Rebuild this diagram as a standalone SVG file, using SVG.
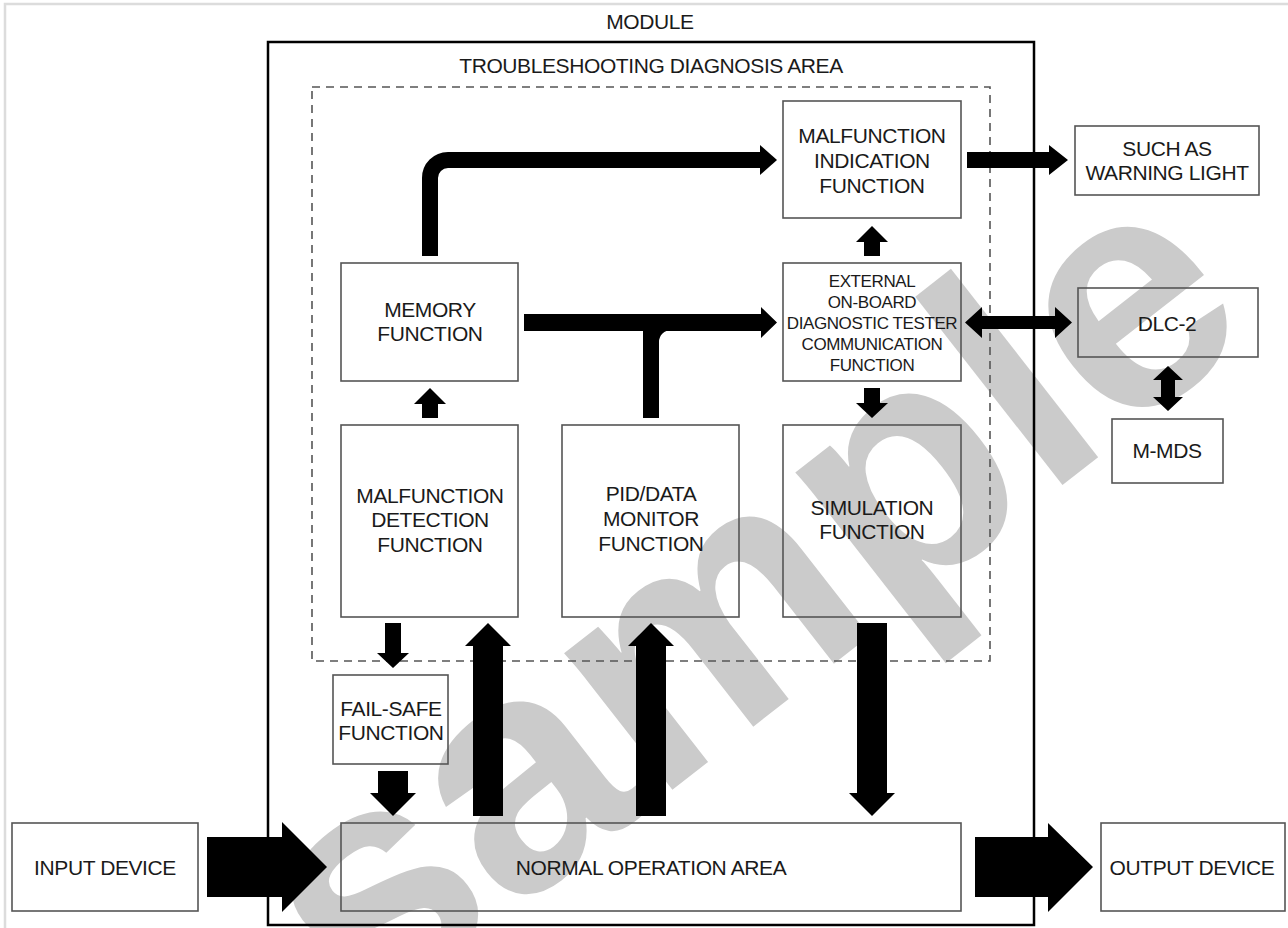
<svg xmlns="http://www.w3.org/2000/svg" width="1288" height="928" viewBox="0 0 1288 928">
<style>
.bx{fill:none;stroke:#555;stroke-width:1.6}
.t{font-family:"Liberation Sans",Arial,sans-serif;font-size:21px;letter-spacing:-0.4px;fill:#1a1a1a;text-anchor:middle}
.ts{font-family:"Liberation Sans",Arial,sans-serif;font-size:17px;letter-spacing:-0.4px;fill:#1a1a1a;text-anchor:middle}
.ar{fill:#000;stroke:none}
</style>
<rect x="0" y="0" width="1288" height="928" fill="#fff"/>
<rect x="5" y="4" width="1300" height="940" fill="none" stroke="#dcdcdc" stroke-width="2.5"/>
<text x="0" y="0" transform="translate(365,1030) rotate(-38)" font-family="Liberation Sans,Arial,sans-serif" font-weight="bold" font-size="330" fill="#cbcbcb">sample</text>
<g id="module">
<rect x="268" y="42" width="766" height="883" fill="none" stroke="#000" stroke-width="2.5"/>
<text class="t" x="650" y="29">MODULE</text>
</g>
<g id="troubleshooting-area">
<rect x="312" y="87" width="678" height="574" fill="none" stroke="#555" stroke-width="1.6" stroke-dasharray="8,6"/>
<text class="t" x="651" y="73">TROUBLESHOOTING DIAGNOSIS AREA</text>
</g>
<g id="malfunction-indication">
<rect class="bx" x="783" y="101" width="178" height="117"/>
<text class="t" x="872" y="143">MALFUNCTION</text>
<text class="t" x="872" y="168">INDICATION</text>
<text class="t" x="872" y="193">FUNCTION</text>
</g>
<g id="warning-light">
<rect class="bx" x="1075" y="126" width="184" height="69"/>
<text class="t" x="1167" y="156">SUCH AS</text>
<text class="t" x="1167" y="180">WARNING LIGHT</text>
</g>
<g id="memory">
<rect class="bx" x="341" y="263" width="177" height="118"/>
<text class="t" x="430" y="317">MEMORY</text>
<text class="t" x="430" y="341">FUNCTION</text>
</g>
<g id="external-tester">
<rect class="bx" x="783" y="263" width="178" height="118"/>
<text class="ts" x="872" y="287">EXTERNAL</text>
<text class="ts" x="872" y="308">ON-BOARD</text>
<text class="ts" x="872" y="329">DIAGNOSTIC TESTER</text>
<text class="ts" x="872" y="350">COMMUNICATION</text>
<text class="ts" x="872" y="371">FUNCTION</text>
</g>
<g id="dlc2">
<rect class="bx" x="1078" y="288" width="180" height="69"/>
<text class="t" x="1167" y="331">DLC-2</text>
</g>
<g id="mmds">
<rect class="bx" x="1112" y="419" width="111" height="64"/>
<text class="t" x="1167" y="458">M-MDS</text>
</g>
<g id="malfunction-detection">
<rect class="bx" x="341" y="425" width="177" height="192"/>
<text class="t" x="430" y="503">MALFUNCTION</text>
<text class="t" x="430" y="527">DETECTION</text>
<text class="t" x="430" y="552">FUNCTION</text>
</g>
<g id="pid-data">
<rect class="bx" x="562" y="425" width="177" height="192"/>
<text class="t" x="651" y="501">PID/DATA</text>
<text class="t" x="651" y="526">MONITOR</text>
<text class="t" x="651" y="551">FUNCTION</text>
</g>
<g id="simulation">
<rect class="bx" x="783" y="425" width="178" height="192"/>
<text class="t" x="872" y="515">SIMULATION</text>
<text class="t" x="872" y="539">FUNCTION</text>
</g>
<g id="fail-safe">
<rect class="bx" x="333" y="675" width="115" height="89"/>
<text class="t" x="391" y="716">FAIL-SAFE</text>
<text class="t" x="391" y="740">FUNCTION</text>
</g>
<g id="normal-operation">
<rect class="bx" x="341" y="823" width="620" height="88"/>
<text class="t" x="651" y="875">NORMAL OPERATION AREA</text>
</g>
<g id="input-device">
<rect class="bx" x="12" y="823" width="186" height="88"/>
<text class="t" x="105" y="875">INPUT DEVICE</text>
</g>
<g id="output-device">
<rect class="bx" x="1101" y="823" width="184" height="88"/>
<text class="t" x="1192" y="875">OUTPUT DEVICE</text>
</g>
<g id="connectors">
<path d="M430 256 V178 A18 18 0 0 1 448 160 H762" fill="none" stroke="#000" stroke-width="16"/>
<polygon class="ar" points="760,145 777,160 760,175"/>
<polygon class="ar" points="967,152 1049,152 1049,145 1068,160 1049,175 1049,168 967,168"/>
<polygon class="ar" points="524,314 761,314 761,307 777,322.5 761,338 761,331 524,331"/>
<rect class="ar" x="643" y="322" width="16" height="96"/>
<path class="ar" d="M659 330 H671 A12 12 0 0 0 659 342 Z"/>
<polygon class="ar" points="965,322.5 982,307 982,316 1055,316 1055,307 1072,322.5 1055,338 1055,329 982,329 982,338"/>
<polygon class="ar" points="1168,366 1183,380 1175,380 1175,397 1183,397 1168,411 1153,397 1161,397 1161,380 1153,380"/>
<polygon class="ar" points="872,226 888,242 880,242 880,256 864,256 864,242 856,242"/>
<polygon class="ar" points="430,388 446,404 438,404 438,418 422,418 422,404 414,404"/>
<polygon class="ar" points="864,388 880,388 880,403 888,403 872,418 856,403 864,403"/>
<polygon class="ar" points="385,623 401,623 401,653 409,653 393,668 377,653 385,653"/>
<polygon class="ar" points="378,771 408,771 408,793 416,793 393,816 370,793 378,793"/>
<polygon class="ar" points="488,623 511,646 503,646 503,816 473,816 473,646 465,646"/>
<polygon class="ar" points="651,623 674,646 666,646 666,816 636,816 636,646 628,646"/>
<polygon class="ar" points="857,623 887,623 887,793 895,793 872,816 849,793 857,793"/>
<polygon class="ar" points="207,837 282,837 282,822 327,867 282,912 282,897 207,897"/>
<polygon class="ar" points="975,837 1048,837 1048,823 1093,867 1048,912 1048,897 975,897"/>
</g>
</svg>
